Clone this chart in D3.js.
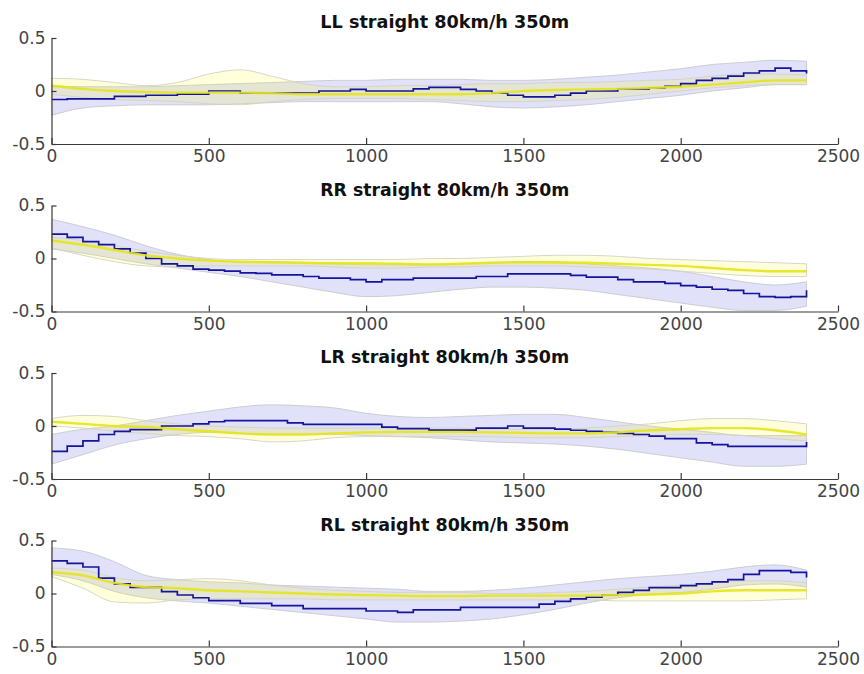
<!doctype html>
<html lang="en">
<head>
<meta charset="utf-8">
<title>straight 80km/h 350m</title>
<style>
	body { margin: 0; background: #fff; }
	svg { display: block; }
</style>
</head>
<body>
<svg id="chart" width="864" height="674"></svg>
<script src="https://cdn.jsdelivr.net/npm/d3@7/dist/d3.min.js"></script>
<script>
(function () {
	"use strict"

	// sample positions along the run (band / yellow at 100, blue mean at 50)
	var xBand = d3.range(0, 2401, 100),
		xMean = d3.range(0, 2401, 50);

	var xTicks = [ 0, 500, 1000, 1500, 2000, 2500 ],
		yTicks = [ -0.5, 0, 0.5 ];

	var titles = [ "LL straight 80km/h 350m", "RR straight 80km/h 350m", "LR straight 80km/h 350m", "RL straight 80km/h 350m" ];

	// LL
	var blueMeanLL = [ -0.08, -0.075, -0.075, -0.075, -0.05, -0.05, -0.04, -0.04, -0.03, -0.03, 0.0, 0.0, -0.02, -0.02, -0.02, -0.02, -0.02, 0.0, 0.0, 0.015, 0.0, 0.0, 0.0, 0.02, 0.035, 0.035, 0.015, 0.0, -0.02, -0.04, -0.055, -0.055, -0.04, -0.02, 0.0, 0.0, 0.02, 0.02, 0.03, 0.045, 0.07, 0.1, 0.12, 0.14, 0.17, 0.19, 0.215, 0.19, 0.165 ];
	var blueHiLL = [ 0.05, 0.04, 0.04, 0.04, 0.05, 0.06, 0.07, 0.08, 0.09, 0.1, 0.1, 0.11, 0.11, 0.11, 0.1, 0.1, 0.11, 0.13, 0.15, 0.18, 0.21, 0.25, 0.27, 0.29, 0.28 ];
	var blueLoLL = [ -0.23, -0.16, -0.14, -0.13, -0.13, -0.13, -0.12, -0.11, -0.1, -0.1, -0.1, -0.1, -0.1, -0.12, -0.15, -0.16, -0.15, -0.13, -0.1, -0.07, -0.04, 0.0, 0.03, 0.06, 0.06 ];
	var yelMeanLL = [ 0.05, 0.02, 0.0, -0.01, -0.015, -0.015, -0.015, -0.02, -0.03, -0.03, -0.03, -0.03, -0.03, -0.03, -0.02, 0.0, 0.01, 0.015, 0.02, 0.03, 0.04, 0.06, 0.08, 0.1, 0.1 ];
	var yelHiLL = [ 0.12, 0.11, 0.08, 0.05, 0.08, 0.16, 0.2, 0.14, 0.07, 0.04, 0.04, 0.05, 0.05, 0.06, 0.07, 0.07, 0.08, 0.08, 0.09, 0.1, 0.11, 0.14, 0.16, 0.16, 0.15 ];
	var yelLoLL = [ -0.03, -0.06, -0.08, -0.09, -0.1, -0.12, -0.13, -0.1, -0.08, -0.07, -0.07, -0.07, -0.08, -0.09, -0.1, -0.1, -0.09, -0.08, -0.06, -0.03, 0.0, 0.03, 0.05, 0.06, 0.06 ];

	// RR
	var blueMeanRR = [ 0.23, 0.2, 0.16, 0.13, 0.09, 0.05, 0.0, -0.05, -0.07, -0.1, -0.11, -0.12, -0.135, -0.14, -0.155, -0.155, -0.17, -0.185, -0.185, -0.2, -0.22, -0.2, -0.2, -0.185, -0.185, -0.185, -0.185, -0.17, -0.17, -0.145, -0.145, -0.145, -0.145, -0.16, -0.175, -0.175, -0.2, -0.22, -0.22, -0.235, -0.255, -0.27, -0.29, -0.3, -0.33, -0.36, -0.366, -0.36, -0.3 ];
	var blueHiRR = [ 0.37, 0.3, 0.22, 0.12, 0.04, -0.01, -0.03, -0.03, -0.04, -0.05, -0.06, -0.06, -0.06, -0.05, -0.04, -0.03, -0.04, -0.05, -0.07, -0.09, -0.12, -0.17, -0.22, -0.25, -0.22 ];
	var blueLoRR = [ 0.09, 0.05, 0.0, -0.05, -0.09, -0.13, -0.17, -0.22, -0.27, -0.32, -0.36, -0.35, -0.32, -0.29, -0.27, -0.27, -0.28, -0.3, -0.34, -0.38, -0.42, -0.46, -0.49, -0.49, -0.45 ];
	var yelMeanRR = [ 0.17, 0.13, 0.08, 0.03, 0.0, -0.02, -0.03, -0.035, -0.04, -0.045, -0.045, -0.05, -0.055, -0.05, -0.04, -0.035, -0.035, -0.04, -0.05, -0.06, -0.07, -0.09, -0.11, -0.12, -0.12 ];
	var yelHiRR = [ 0.2, 0.17, 0.12, 0.07, 0.03, 0.0, -0.01, -0.01, -0.01, -0.01, -0.01, -0.01, 0.0, 0.0, 0.01, 0.02, 0.03, 0.03, 0.02, 0.0, -0.01, -0.02, -0.03, -0.04, -0.05 ];
	var yelLoRR = [ 0.1, 0.03, -0.03, -0.07, -0.08, -0.07, -0.07, -0.07, -0.07, -0.08, -0.09, -0.09, -0.08, -0.08, -0.07, -0.07, -0.07, -0.08, -0.09, -0.1, -0.12, -0.14, -0.16, -0.17, -0.17 ];

	// LR
	var blueMeanLR = [ -0.24, -0.19, -0.14, -0.08, -0.05, -0.035, -0.035, 0.0, 0.0, 0.02, 0.04, 0.05, 0.05, 0.05, 0.05, 0.03, 0.015, 0.015, 0.015, 0.015, 0.015, -0.01, -0.025, -0.025, -0.038, -0.038, -0.038, -0.02, -0.02, 0.0, -0.02, -0.02, -0.03, -0.04, -0.05, -0.06, -0.07, -0.08, -0.095, -0.12, -0.12, -0.16, -0.175, -0.193, -0.193, -0.193, -0.193, -0.193, -0.15 ];
	var blueHiLR = [ -0.08, -0.03, 0.0, 0.05, 0.1, 0.14, 0.18, 0.2, 0.19, 0.17, 0.12, 0.09, 0.08, 0.09, 0.1, 0.11, 0.11, 0.08, 0.04, 0.0, -0.03, -0.06, -0.09, -0.09, -0.09 ];
	var blueLoLR = [ -0.36, -0.27, -0.18, -0.12, -0.08, -0.06, -0.07, -0.08, -0.08, -0.08, -0.09, -0.1, -0.11, -0.13, -0.15, -0.16, -0.17, -0.19, -0.22, -0.26, -0.3, -0.34, -0.38, -0.38, -0.36 ];
	var yelMeanLR = [ 0.04, 0.02, 0.0, -0.01, -0.03, -0.05, -0.07, -0.08, -0.08, -0.07, -0.06, -0.055, -0.055, -0.055, -0.06, -0.065, -0.07, -0.07, -0.06, -0.04, -0.03, -0.02, -0.02, -0.04, -0.08 ];
	var yelHiLR = [ 0.07, 0.1, 0.09, 0.05, 0.02, 0.0, -0.01, -0.02, -0.02, -0.02, -0.02, -0.02, -0.02, -0.02, -0.03, -0.03, -0.03, -0.02, 0.0, 0.02, 0.05, 0.07, 0.07, 0.05, 0.02 ];
	var yelLoLR = [ 0.0, -0.02, -0.05, -0.07, -0.09, -0.1, -0.12, -0.15, -0.14, -0.11, -0.1, -0.1, -0.1, -0.1, -0.1, -0.11, -0.11, -0.11, -0.1, -0.09, -0.08, -0.08, -0.09, -0.12, -0.14 ];

	// RL
	var blueMeanRL = [ 0.307, 0.285, 0.25, 0.145, 0.09, 0.058, 0.058, 0.017, -0.014, -0.04, -0.068, -0.068, -0.093, -0.093, -0.115, -0.115, -0.143, -0.143, -0.143, -0.143, -0.165, -0.165, -0.178, -0.155, -0.155, -0.155, -0.13, -0.13, -0.13, -0.13, -0.13, -0.1, -0.075, -0.05, -0.035, -0.015, 0.01, 0.03, 0.055, 0.055, 0.075, 0.09, 0.11, 0.13, 0.18, 0.215, 0.215, 0.2, 0.15 ];
	var blueHiRL = [ 0.43, 0.4, 0.3, 0.17, 0.13, 0.11, 0.1, 0.08, 0.07, 0.06, 0.05, 0.04, 0.02, 0.02, 0.03, 0.05, 0.08, 0.11, 0.14, 0.16, 0.18, 0.21, 0.25, 0.27, 0.22 ];
	var blueLoRL = [ 0.18, 0.12, 0.02, -0.04, -0.07, -0.09, -0.12, -0.15, -0.18, -0.21, -0.24, -0.27, -0.27, -0.26, -0.24, -0.2, -0.15, -0.09, -0.04, -0.01, 0.01, 0.04, 0.08, 0.09, 0.06 ];
	var yelMeanRL = [ 0.2, 0.17, 0.1, 0.06, 0.05, 0.03, 0.02, 0.01, 0.0, -0.01, -0.015, -0.02, -0.025, -0.025, -0.02, -0.02, -0.02, -0.02, -0.015, -0.01, 0.0, 0.02, 0.03, 0.03, 0.03 ];
	var yelHiRL = [ 0.24, 0.22, 0.15, 0.12, 0.13, 0.14, 0.12, 0.08, 0.05, 0.03, 0.02, 0.01, 0.01, 0.01, 0.0, 0.0, 0.01, 0.02, 0.04, 0.06, 0.08, 0.1, 0.12, 0.12, 0.1 ];
	var yelLoRL = [ 0.16, 0.05, -0.08, -0.09, -0.06, -0.05, -0.05, -0.05, -0.05, -0.06, -0.06, -0.06, -0.06, -0.06, -0.06, -0.06, -0.06, -0.06, -0.07, -0.07, -0.07, -0.07, -0.07, -0.06, -0.05 ];

	var panels = [
		{ blueMean: blueMeanLL, blueHi: blueHiLL, blueLo: blueLoLL, yelMean: yelMeanLL, yelHi: yelHiLL, yelLo: yelLoLL },
		{ blueMean: blueMeanRR, blueHi: blueHiRR, blueLo: blueLoRR, yelMean: yelMeanRR, yelHi: yelHiRR, yelLo: yelLoRR },
		{ blueMean: blueMeanLR, blueHi: blueHiLR, blueLo: blueLoLR, yelMean: yelMeanLR, yelHi: yelHiLR, yelLo: yelLoLR },
		{ blueMean: blueMeanRL, blueHi: blueHiRL, blueLo: blueLoRL, yelMean: yelMeanRL, yelHi: yelHiRL, yelLo: yelLoRL }
	];

	var svg = d3.select("#chart");
	svg.append("rect").attr("width", 864).attr("height", 674).attr("fill", "#fff");

	var x = d3.scaleLinear().domain([ 0, 2500 ]).range([ 51.5, 838 ]),
		plotH = 106,
		step = 167.5;

	panels.forEach(function (p, i) {
		var top = 38 + i * step,
			y = d3.scaleLinear().domain([ -0.5, 0.5 ]).range([ top + plotH, top ]),
			g = svg.append("g");

		var band = function (hi, lo) {
			return d3.area()
				.x(function (d, k) { return x(xBand[k]); })
				.y0(function (d, k) { return y(lo[k]); })
				.y1(function (d, k) { return y(hi[k]); })
				.curve(d3.curveMonotoneX)(hi);
		};

		g.append("clipPath").attr("id", "clip" + i)
			.append("rect").attr("x", x(0)).attr("y", top).attr("width", x(2500) - x(0)).attr("height", plotH);

		var plot = g.append("g").attr("clip-path", "url(#clip" + i + ")");

		// blue +/- band
		plot.append("path")
			.attr("d", band(p.blueHi, p.blueLo))
			.attr("fill", "#e1e1fa")
			.attr("stroke", "#c8c8cc")
			.attr("stroke-width", 0.9);

		// yellow +/- band, see-through
		plot.append("path")
			.attr("d", band(p.yelHi, p.yelLo))
			.attr("fill", "rgba(255,255,0,0.14)")
			.attr("stroke", "#d2d2c4")
			.attr("stroke-width", 0.9);

		// blue mean, stepped
		plot.append("path")
			.datum(p.blueMean)
			.attr("fill", "none")
			.attr("stroke", "#14149c")
			.attr("stroke-width", 1.7)
			.attr("d", d3.line()
				.x(function (d, k) { return x(xMean[k]); })
				.y(function (d) { return y(d); })
				.curve(d3.curveStepAfter));

		// yellow mean
		plot.append("path")
			.datum(p.yelMean)
			.attr("fill", "none")
			.attr("stroke", "#e4e41e")
			.attr("stroke-opacity", 0.9)
			.attr("stroke-width", 2.4)
			.attr("d", d3.line()
				.x(function (d, k) { return x(xBand[k]); })
				.y(function (d) { return y(d); })
				.curve(d3.curveMonotoneX));

		// axes, box off, ticks pointing in
		var ax = g.append("g")
			.attr("transform", "translate(0," + (top + plotH) + ")")
			.call(d3.axisBottom(x).tickValues(xTicks).tickSizeInner(-6).tickSizeOuter(0).tickPadding(6)
				.tickFormat(function (d) { return String(d); }));

		var ay = g.append("g")
			.attr("transform", "translate(" + x(0) + ",0)")
			.call(d3.axisLeft(y).tickValues(yTicks).tickSizeInner(-5).tickSizeOuter(0).tickPadding(6)
				.tickFormat(function (d) { return String(d); }));

		[ ax, ay ].forEach(function (a) {
			a.select(".domain").attr("stroke", "#3a3a3a").attr("stroke-width", 1.2);
			a.selectAll(".tick line").attr("stroke", "#3a3a3a").attr("stroke-width", 1.2);
			a.selectAll(".tick text")
				.attr("fill", "#444")
				.style("font-family", "'DejaVu Sans', sans-serif")
				.style("font-size", "17px");
		});

		g.append("text")
			.attr("x", (x(0) + x(2500)) / 2)
			.attr("y", top - 10)
			.attr("text-anchor", "middle")
			.attr("textLength", 249)
			.attr("lengthAdjust", "spacingAndGlyphs")
			.attr("fill", "#111")
			.style("font-family", "'DejaVu Sans', sans-serif")
			.style("font-weight", "bold")
			.style("font-size", "17px")
			.text(titles[i]);
	});
})();
</script>
</body>
</html>
